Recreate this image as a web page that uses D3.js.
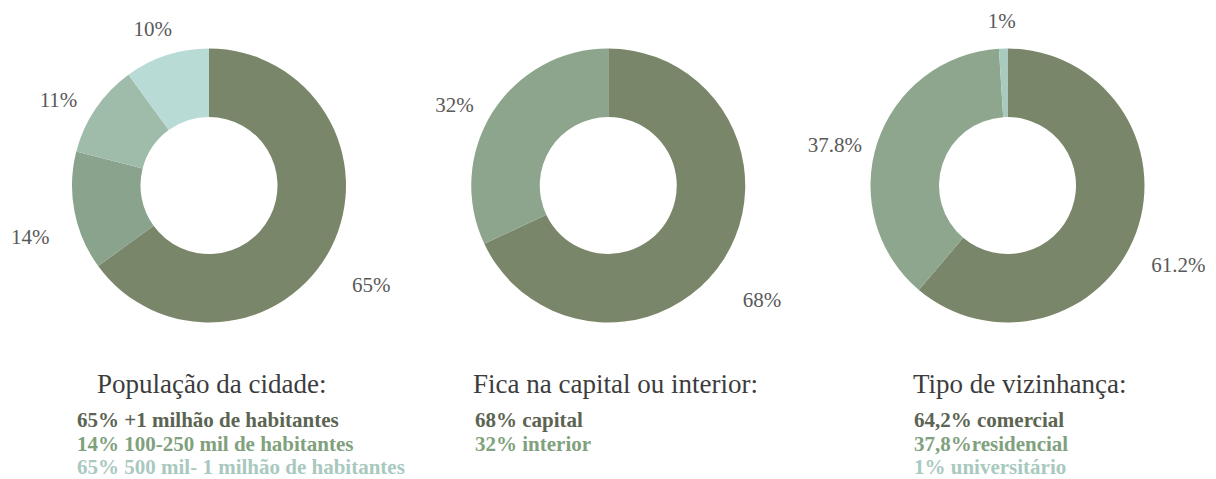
<!DOCTYPE html>
<html>
<head>
<meta charset="utf-8">
<script src="https://cdn.jsdelivr.net/npm/d3@7/dist/d3.min.js"></script>
<style>
  html, body { margin: 0; padding: 0; background: #ffffff; }
  svg { display: block; }
</style>
</head>
<body>
<svg id="chart" width="1216" height="479"></svg>
<script>
// ---- data ----
const titles = ["População da cidade:", "Fica na capital ou interior:", "Tipo de vizinhança:"];

const popValues = [65, 14, 11, 10];
const popLabels = ["65%", "14%", "11%", "10%"];
const popLegend = ["65% +1 milhão de habitantes", "14% 100-250 mil de habitantes", "65% 500 mil- 1 milhão de habitantes"];

const locValues = [68, 32];
const locLabels = ["68%", "32%"];
const locLegend = ["68% capital", "32% interior"];

const hoodValues = [61.2, 37.8, 1];
const hoodLabels = ["61.2%", "37.8%", "1%"];
const hoodLegend = ["64,2% comercial", "37,8%residencial", "1% universitário"];

// ---- palette ----
const sliceColors = [
  ["#7a8669", "#8aa38c", "#9fbcaa", "#b9dbd5"],
  ["#7a8669", "#8ca58c"],
  ["#7a8669", "#8ea68d", "#a8cbbf"]
];
const legendColors = ["#5c6452", "#80a17d", "#a9c9bf"];

// ---- layout ----
const cy = 185.5;
const outerR = 137, innerR = 68.5;
const labelR = 182, labelDrop = 17;
const centerX = d3.scalePoint().domain([0, 1, 2]).range([209, 1007.5]);
const titleX = [97, 473, 913];
const legendX = [77, 475, 914];
const titleY = 393;
const legendY0 = 427, legendStep = 23.5;
const serif = "'Liberation Serif', 'Times New Roman', serif";

const panels = [
  { values: popValues, labels: popLabels, legend: popLegend },
  { values: locValues, labels: locLabels, legend: locLegend },
  { values: hoodValues, labels: hoodLabels, legend: hoodLegend }
];

const svg = d3.select("#chart");

const pie = d3.pie().sort(null).value(d => d).startAngle(0).endAngle(2 * Math.PI);
const arc = d3.arc().innerRadius(innerR).outerRadius(outerR);
const mid = d => (d.startAngle + d.endAngle) / 2;

panels.forEach((p, i) => {
  const cx = centerX(i);
  const g = svg.append("g").attr("transform", `translate(${cx},${cy})`);
  const arcs = pie(p.values);

  // ring slices, clockwise from 12 o'clock
  g.selectAll("path.slice")
    .data(arcs)
    .join("path")
    .attr("class", "slice")
    .attr("d", arc)
    .attr("fill", (d, j) => sliceColors[i][j]);

  // value labels around the ring
  g.selectAll("text.val")
    .data(arcs)
    .join("text")
    .attr("class", "val")
    .attr("x", d => labelR * Math.sin(mid(d)))
    .attr("y", d => -labelR * Math.cos(mid(d)) + labelDrop)
    .attr("text-anchor", "middle")
    .attr("dominant-baseline", "central")
    .attr("font-family", serif)
    .attr("font-size", 21)
    .attr("fill", "#595959")
    .text((d, j) => p.labels[j]);

  // panel title
  svg.append("text")
    .attr("x", titleX[i])
    .attr("y", titleY)
    .attr("font-family", serif)
    .attr("font-size", 27)
    .attr("fill", "#3c3c3c")
    .text(titles[i]);

  // legend lines
  svg.append("g")
    .selectAll("text")
    .data(p.legend)
    .join("text")
    .attr("x", legendX[i])
    .attr("y", (d, j) => legendY0 + j * legendStep)
    .attr("font-family", serif)
    .attr("font-size", 21)
    .attr("font-weight", "bold")
    .attr("fill", (d, j) => legendColors[j])
    .text(d => d);
});
</script>
</body>
</html>
